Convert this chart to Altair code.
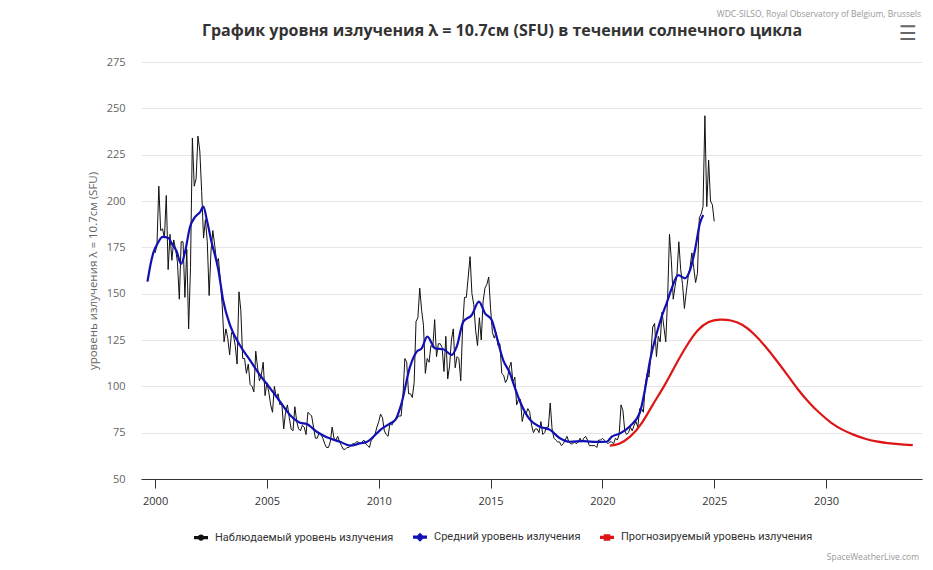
import altair as alt
import pandas as pd

TITLE = "График уровня излучения λ = 10.7см (SFU) в течении солнечного цикла"
Y_TITLE = "уровень излучения λ = 10.7см (SFU)"
CREDIT_TOP = "WDC-SILSO, Royal Observatory of Belgium, Brussels"
CREDIT_BOTTOM = "SpaceWeatherLive.com"
SERIES = ["Наблюдаемый уровень излучения", "Средний уровень излучения",
          "Прогнозируемый уровень излучения"]
COLORS = ["#111111", "#1010b4", "#dd1515"]

X_TICKS = [2000, 2005, 2010, 2015, 2020, 2025, 2030]
Y_TICKS = [50, 75, 100, 125, 150, 175, 200, 225, 250, 275]

# monthly observed values (Jan .. Dec)
obs_2000 = [172, 176, 208, 184, 185, 180, 203, 163, 182, 168, 179, 174]
obs_2001 = [167, 147, 178, 178, 148, 174, 131, 164, 234, 208, 212, 235]
obs_2002 = [227, 205, 180, 190, 178, 149, 173, 184, 176, 167, 169, 157]
obs_2003 = [144, 124, 131, 126, 117, 129, 128, 122, 112, 151, 141, 115]
obs_2004 = [115, 107, 112, 101, 100, 97, 119, 110, 103, 106, 113, 95]
obs_2005 = [102, 97, 90, 86, 100, 94, 96, 90, 91, 77, 86, 90]
obs_2006 = [83, 77, 76, 89, 81, 77, 76, 79, 78, 74, 86, 85]
obs_2007 = [84, 78, 72, 72, 75, 74, 72, 69, 67, 67, 70, 78]
obs_2008 = [72, 71, 73, 70, 68, 66, 66, 67, 67, 68, 69, 69]
obs_2009 = [70, 70, 69, 70, 71, 69, 68, 67, 71, 72, 74, 78]
obs_2010 = [81, 85, 83, 76, 74, 73, 80, 79, 81, 82, 83, 84]
obs_2011 = [84, 95, 115, 113, 96, 96, 94, 102, 135, 137, 153, 141]
obs_2012 = [133, 107, 115, 113, 122, 121, 136, 116, 123, 123, 121, 108]
obs_2013 = [127, 104, 111, 125, 131, 110, 116, 115, 103, 132, 148, 148]
obs_2014 = [159, 170, 150, 144, 130, 122, 137, 125, 146, 153, 155, 159]
obs_2015 = [142, 129, 126, 129, 122, 123, 107, 106, 102, 104, 110, 113]
obs_2016 = [102, 105, 90, 93, 93, 81, 86, 85, 88, 86, 79, 75]
obs_2017 = [77, 77, 75, 81, 74, 75, 78, 78, 91, 77, 72, 71]
obs_2018 = [70, 70, 68, 69, 71, 73, 70, 69, 69, 70, 69, 70]
obs_2019 = [72, 70, 72, 73, 71, 68, 68, 68, 68, 67, 71, 71]
obs_2020 = [72, 71, 70, 69, 70, 70, 69, 72, 71, 74, 90, 87]
obs_2021 = [76, 74, 75, 78, 76, 79, 81, 78, 88, 88, 86, 101]
obs_2022 = [107, 105, 117, 132, 134, 116, 127, 124, 140, 132, 124, 148]
obs_2023 = [182, 168, 147, 154, 160, 178, 163, 155, 142, 151, 159, 164]
obs_2024 = [172, 164, 156, 161, 191, 193, 197, 246, 197, 222, 200, 198]
obs_2025 = [189]

OBS_YEARS = [obs_2000, obs_2001, obs_2002, obs_2003, obs_2004, obs_2005, obs_2006,
             obs_2007, obs_2008, obs_2009, obs_2010, obs_2011, obs_2012, obs_2013,
             obs_2014, obs_2015, obs_2016, obs_2017, obs_2018, obs_2019, obs_2020,
             obs_2021, obs_2022, obs_2023, obs_2024, obs_2025]

# smoothed (mean) level
smooth_x = [1999.66, 1999.80, 1999.92, 2000.13, 2000.34, 2000.60, 2000.75, 2000.97,
            2001.16, 2001.34, 2001.56, 2001.79, 2002.01, 2002.16, 2002.31, 2002.53,
            2002.83, 2003.05, 2003.35, 2003.80, 2004.25, 2004.69, 2005.14, 2005.59,
            2006.03, 2006.48, 2006.78, 2007.23, 2007.68, 2008.27, 2008.72, 2009.16,
            2009.46, 2009.91, 2010.06, 2010.51, 2010.75, 2011.00, 2011.40, 2011.70,
            2011.92, 2012.17, 2012.52, 2012.89, 2013.26, 2013.49, 2013.78, 2014.16,
            2014.48, 2014.75, 2015.05, 2015.27, 2015.57, 2015.87, 2016.02, 2016.32,
            2016.76, 2017.21, 2017.66, 2018.10, 2018.55, 2019.15, 2019.75, 2020.19,
            2020.42, 2020.79, 2021.23, 2021.68, 2021.90, 2022.13, 2022.43, 2022.65,
            2022.87, 2023.10, 2023.39, 2023.69, 2023.92, 2024.14, 2024.36, 2024.51]
smooth_y = [156.5, 166, 172, 177.5, 180.6, 180, 177, 172.6,
            166, 172.6, 186, 191.4, 194, 197, 190, 177.6,
            162.8, 146, 133, 122, 114, 106, 99, 91.7,
            84.5, 80.4, 79.7, 75.5, 72.5, 70.1, 68, 69.2,
            70, 74.6, 76.4, 80, 82, 90, 110.6, 118.7,
            120.5, 126.8, 120.5, 120, 117, 121.6, 134.9, 138.5,
            145.7, 139.4, 135.8, 126.8, 114, 107, 101.6, 91.7,
            82, 78.2, 76.5, 72, 70.1, 70.4, 70, 70.1,
            72.8, 74.6, 78.5, 86, 98, 114, 128.6, 137.6,
            144.8, 152.9, 160, 158.3, 162.8, 173.6, 188, 192.4]

# predicted level
pred_x = [2020.33, 2020.75, 2021.25, 2021.75, 2022.25, 2022.75, 2023.25, 2023.75,
          2024.25, 2024.75, 2025.25, 2025.75, 2026.25, 2026.75, 2027.25, 2027.75,
          2028.25, 2028.75, 2029.25, 2029.75, 2030.25, 2030.75, 2031.25, 2031.75,
          2032.25, 2032.75, 2033.25, 2033.88]
pred_y = [68, 69, 73, 80, 90, 100, 111, 121.5,
          130, 134.7, 136, 135.5, 133.2, 128.5, 122, 114.5,
          106.5, 98.3, 91.2, 85.2, 80.2, 76.5, 73.8, 71.7,
          70.3, 69.4, 68.8, 68.3]

obs_rows = []
m = 0
for yr_vals in OBS_YEARS:
    for v in yr_vals:
        obs_rows.append({"x": 2000 + m / 12.0, "y": v, "s": SERIES[0]})
        m += 1
obs_df = pd.DataFrame(obs_rows)
smooth_df = pd.DataFrame({"x": smooth_x, "y": smooth_y, "s": SERIES[1]})
pred_df = pd.DataFrame({"x": pred_x, "y": pred_y, "s": SERIES[2]})
legend_df = pd.concat([obs_df.head(1), smooth_df.head(1), pred_df.head(1)])

FONT = "Open Sans"

# legend symbols: a short line with a marker in the middle
SYMBOLS = [
    "M-1,0H1M-0.22,0A0.22,0.22,0,1,0,0.22,0A0.22,0.22,0,1,0,-0.22,0Z",
    "M-1,0H1M0,-0.32L0.32,0L0,0.32L-0.32,0Z",
    "M-1,0H1M-0.24,-0.24H0.24V0.24H-0.24Z",
]

LEGEND = alt.Legend(
    title=None, orient="none", direction="horizontal",
    legendX=51, legendY=466, padding=0,
    labelFont="Roboto", labelFontSize=11, labelColor="#333333", labelLimit=0,
    labelOffset=5, columnPadding=12,
    symbolSize=196, symbolStrokeWidth=3.2,
)

x_enc = alt.X(
    "x:Q",
    scale=alt.Scale(domain=[1999.37, 2034.29], nice=False, zero=False),
    axis=alt.Axis(
        title=None, values=X_TICKS, format="d", grid=False,
        domainColor="#333333", domainWidth=1, tickColor="#333333",
        tickSize=9, labelPadding=7, labelFont=FONT, labelFontSize=11,
        labelColor="#333333",
    ),
)
y_enc = alt.Y(
    "y:Q",
    scale=alt.Scale(domain=[50, 275], nice=False, zero=False),
    axis=alt.Axis(
        title=Y_TITLE, values=Y_TICKS, domain=False, ticks=False, tickSize=0,
        gridColor="#e6e6e6", labelPadding=16, labelFont=FONT, labelFontSize=11,
        labelColor="#666666", titleFont=FONT, titleFontSize=11.5,
        titleFontWeight="normal", titleColor="#666666", titlePadding=8,
    ),
)
color_scale = alt.Scale(domain=SERIES, range=COLORS)

legend_pts = alt.Chart(legend_df).mark_point(opacity=0, filled=False).encode(
    x=x_enc, y=y_enc,
    color=alt.Color("s:N", scale=color_scale, sort=SERIES, legend=LEGEND),
    shape=alt.Shape("s:N", scale=alt.Scale(domain=SERIES, range=SYMBOLS),
                    sort=SERIES, legend=LEGEND),
)

line_color = alt.Color("s:N", scale=color_scale, sort=SERIES, legend=None)
obs_line = alt.Chart(obs_df).mark_line(strokeWidth=1).encode(
    x=x_enc, y=y_enc, color=line_color)
smooth_line = alt.Chart(smooth_df).mark_line(strokeWidth=2.2, interpolate="monotone").encode(
    x=x_enc, y=y_enc, color=line_color)
pred_line = alt.Chart(pred_df).mark_line(strokeWidth=2.2, interpolate="natural").encode(
    x=x_enc, y=y_enc, color=line_color)

title_df = pd.DataFrame({"t": [TITLE]})
title_txt = alt.Chart(title_df).mark_text(
    align="center", baseline="middle", font=FONT, fontSize=16, fontWeight="bold",
    color="#333333"
).encode(text="t:N", x=alt.value(361), y=alt.value(-31))

txt_df = pd.DataFrame({"t": [CREDIT_TOP]})
credit_top = alt.Chart(txt_df).mark_text(
    align="right", baseline="top", font=FONT, fontSize=8.5, color="#999999"
).encode(text="t:N", x=alt.value(780), y=alt.value(-52))

txt_df2 = pd.DataFrame({"t": [CREDIT_BOTTOM]})
credit_bottom = alt.Chart(txt_df2).mark_text(
    align="right", baseline="middle", font=FONT, fontSize=8.5, color="#999999"
).encode(text="t:N", x=alt.value(778), y=alt.value(495))

menu_df = pd.DataFrame({"t": ["☰"]})
menu = alt.Chart(menu_df).mark_text(
    align="center", baseline="middle", font="DejaVu Sans", fontSize=20,
    fontWeight="bold", color="#666666"
).encode(text="t:N", x=alt.value(767), y=alt.value(-28))

chart = alt.layer(legend_pts, obs_line, smooth_line, pred_line,
                  title_txt, credit_top, credit_bottom, menu).properties(
    width=781, height=417,
    autosize=alt.AutoSizeParams(type="none"),
    padding={"left": 133, "top": 54, "right": 3, "bottom": 83},
).configure_view(stroke=None)

chart.save("out.html", embed_options={"renderer": "svg", "actions": False})
